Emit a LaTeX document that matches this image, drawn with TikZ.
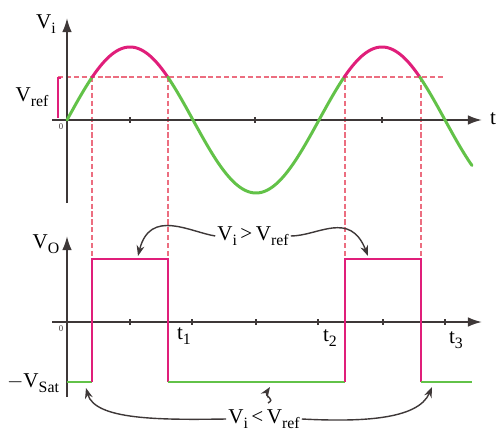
\documentclass[tikz,border=0pt]{standalone}
\usepackage{fontspec}
\setmainfont{Liberation Serif}
\usetikzlibrary{arrows.meta}
\definecolor{pulsemag}{RGB}{224,30,122}
\definecolor{lowgreen}{RGB}{98,194,72}
\definecolor{axisgray}{RGB}{62,56,56}
\definecolor{guidered}{RGB}{236,110,128}
\newcommand{\lowsub}[1]{\raisebox{-.45ex}{\small #1}}
\tikzset{
	axisline/.style={axisgray, line width=1.1pt, -{Latex[length=8pt,width=5.5pt]}},
	guide/.style={guidered, line width=.6pt, dash pattern=on 3pt off 1.5pt},
	hiwave/.style={pulsemag, line width=1.7pt, line cap=round},
	lowave/.style={lowgreen, line width=1.7pt, line cap=round},
	hipulse/.style={pulsemag, line width=1.4pt},
	lopulse/.style={lowgreen, line width=1.4pt},
	callout/.style={axisgray, line width=.8pt, -{Stealth[length=6pt,width=4.5pt]}},
	lbl/.style={font=\large, inner sep=1pt}
}
\begin{document}
\begin{tikzpicture}[x=0.02cm,y=-0.02cm]
	\useasboundingbox (0,0) rectangle (500,439);
	
	\draw[guide] (58,77) -- (443,77);
	\draw[guide] (92,77) -- (92,259);
	\draw[guide] (168,77) -- (168,259);
	\draw[guide] (345,77) -- (345,259);
	\draw[guide] (421,77) -- (421,259);
	\draw[pulsemag, line width=.7pt] (61,78) -- (58,78) -- (58,118);
	
	\draw[axisline] (52,120) -- (482,120);
	\draw[axisline] (67,203) -- (67,18);
	\draw[axisgray, line width=.8pt] (130,117) -- (130,123) (255,117) -- (255,123) (382,117) -- (382,123);
	
	\draw[lowave, domain=0:25.2, samples=15] plot ({67+\x},{120-73*sin(\x/63*90)});
	\draw[hiwave, domain=25.2:100.8, samples=40] plot ({67+\x},{120-73*sin(\x/63*90)});
	\draw[lowave, domain=100.8:277.2, samples=80] plot ({67+\x},{120-73*sin(\x/63*90)});
	\draw[hiwave, domain=277.2:352.8, samples=40] plot ({67+\x},{120-73*sin(\x/63*90)});
	\draw[lowave, domain=352.8:405, samples=30] plot ({67+\x},{120-73*sin(\x/63*90)});
	
	\node[lbl] (vi) at (46,24){V\lowsub{i}};
	\node[lbl] (vref) at (32,97){V\lowsub{ref}};
	\node[lbl] (tt) at (493,119){t};
	\node[font=\tiny, axisgray] (zeroa) at (61,127){0};
	
	\draw[axisline] (52,322) -- (482,322);
	\draw[axisline] (67,397) -- (67,236);
	\draw[axisgray, line width=.8pt] (130,319) -- (130,325) (192,319) -- (192,325) (256,319) -- (256,325) (318,319) -- (318,325) (383,319) -- (383,325) (445,319) -- (445,325);
	
	\draw[lopulse] (67,382) -- (92,382);
	\draw[hipulse] (92,382) -- (92,259) -- (168,259) -- (168,382);
	\draw[lopulse] (168,382) -- (345,382);
	\draw[hipulse] (345,382) -- (345,259) -- (421,259) -- (421,382);
	\draw[lopulse] (421,382) -- (472,382);
	
	\node[lbl] (vo) at (46,244){V\lowsub{O}};
	\node[lbl] (vsat) at (33,383){$-$V\lowsub{Sat}};
	\node[font=\tiny, axisgray] (zerob) at (61,329){0};
	\node[lbl] (t1) at (184,336){t\lowsub{1}};
	\node[lbl] (t2) at (330,338){t\lowsub{2}};
	\node[lbl] (t3) at (456,340){t\lowsub{3}};
	
	\node[lbl] (gt) at (253,236){V\lowsub{i}\,>\,V\lowsub{ref}};
	\node[lbl] (lt) at (264,419){V\lowsub{i}\,<\,V\lowsub{ref}};
	
	\coordinate (topa) at (138,256);
	\coordinate (topb) at (368,256);
	\coordinate (lowa) at (86,388);
	\coordinate (lowb) at (270,387);
	\coordinate (lowc) at (432,387);
	
	\draw[callout] (gt.west) .. controls (190,232) and (150,208) .. (topa);
	\draw[callout] (gt.east) .. controls (318,236) and (350,210) .. (topb);
	\draw[callout] (lt.west) .. controls (160,420) and (95,420) .. (lowa);
	\draw[callout] (lt.east) .. controls (360,422) and (418,420) .. (lowc);
	\draw[callout] (268,403) .. controls (276,399) and (264,396) .. (lowb);
\end{tikzpicture}
\end{document}
